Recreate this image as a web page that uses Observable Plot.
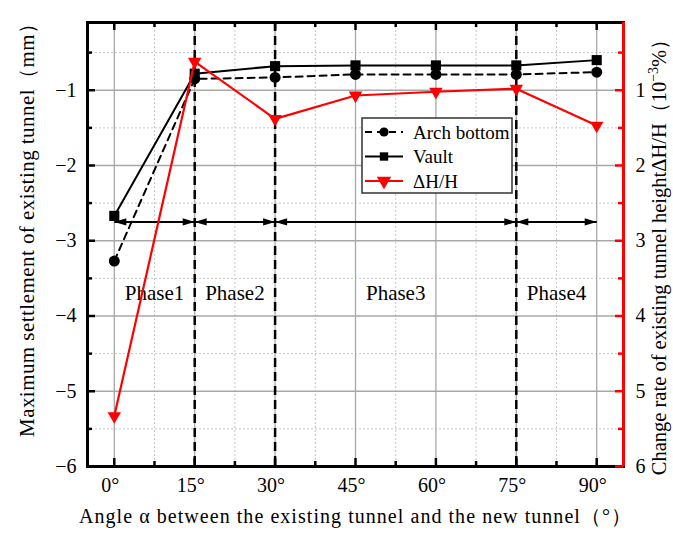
<!DOCTYPE html>
<html>
<head>
<meta charset="utf-8">
<script src="https://cdn.jsdelivr.net/npm/d3@7"></script>
<script src="https://cdn.jsdelivr.net/npm/@observablehq/plot@0.6"></script>
<style>
  html, body { margin: 0; padding: 0; background: #fff; }
  #chart svg { display: block; }
</style>
</head>
<body>
<div id="chart"></div>
<script>
// ---- data ----
const angles = [0, 15, 30, 45, 60, 75, 90];
const archBottom = [-3.27, -0.85, -0.83, -0.79, -0.79, -0.79, -0.76];   // mm
const vault = [-2.67, -0.78, -0.68, -0.67, -0.67, -0.67, -0.60];        // mm
const deltaHH = [5.33, 0.62, 1.38, 1.07, 1.02, 0.98, 1.47];             // 10^-3 %
const phaseBounds = [0, 15, 30, 75, 90];
const phaseNames = ["Phase1", "Phase2", "Phase3", "Phase4"];
const arrowLevel = -2.75;
const phaseLabelLevel = -3.7;
const xTicks = [0, 15, 30, 45, 60, 75, 90];
const xMinorTicks = [7.5, 22.5, 37.5, 52.5, 67.5, 82.5];
const yTicks = [-1, -2, -3, -4, -5, -6];
const yMinorTicks = [-0.5, -1.5, -2.5, -3.5, -4.5, -5.5];
const xDomain = [-5, 95];
const yDomain = [-6, -0.1];

// ---- layout ----
const W = 673, H = 533;
const mT = 22, mR = 50, mB = 67, mL = 87;
const fw = W - mL - mR, fh = H - mT - mB;
const FONT = '"Liberation Serif", "Times New Roman", "Noto Serif", serif';

const arch = angles.map((a, i) => ({a, v: archBottom[i]}));
const vlt = angles.map((a, i) => ({a, v: vault[i]}));
const dhh = angles.map((a, i) => ({a, v: deltaHH[i]}));

const segments = phaseBounds.slice(0, -1).map((b, i) => ({a: b, b: phaseBounds[i + 1], name: phaseNames[i]}));
const heads = segments.flatMap(s => [{x: s.b, dir: 0}, {x: s.a, dir: 180}]);
const arrowHead = {
  draw(ctx) { ctx.moveTo(0, 0); ctx.lineTo(-12, -3.6); ctx.lineTo(-12, 3.6); ctx.closePath(); }
};

const chart = Plot.plot({
  width: W, height: H,
  marginTop: mT, marginRight: mR, marginBottom: mB, marginLeft: mL,
  style: {fontFamily: FONT, fontSize: "18px", color: "black", background: "white"},
  x: {domain: xDomain},
  y: {domain: yDomain},
  marks: [
    // grid
    Plot.ruleY(yMinorTicks, {stroke: "#c8c8c8", strokeWidth: 1, strokeDasharray: "2,2"}),
    Plot.ruleX(xMinorTicks, {stroke: "#c8c8c8", strokeWidth: 1, strokeDasharray: "2,2"}),
    Plot.ruleY(yTicks.slice(0, -1), {stroke: "#a8a8a8", strokeWidth: 1.3}),
    Plot.ruleX(xTicks, {stroke: "#a8a8a8", strokeWidth: 1.3}),
    // phase separators
    Plot.ruleX(phaseBounds.slice(1, -1), {stroke: "black", strokeWidth: 2.5, strokeDasharray: "9,5"}),
    // phase arrows
    Plot.link(segments, {x1: "a", x2: "b", y1: () => arrowLevel, y2: () => arrowLevel, stroke: "black", strokeWidth: 2}),
    Plot.dot(heads, {x: "x", y: () => arrowLevel, symbol: arrowHead, rotate: "dir", fill: "black", stroke: "none"}),
    Plot.text(segments, {x: d => (d.a + d.b) / 2, y: () => phaseLabelLevel, text: "name", fontSize: 21, fill: "black"}),
    // series
    Plot.line(arch, {x: "a", y: "v", stroke: "black", strokeWidth: 2, strokeDasharray: "7,5"}),
    Plot.dot(arch, {x: "a", y: "v", r: 5.5, fill: "black", stroke: "none"}),
    Plot.line(vlt, {x: "a", y: "v", stroke: "black", strokeWidth: 2}),
    Plot.dot(vlt, {x: "a", y: "v", symbol: "square", r: 5.7, fill: "black", stroke: "none"}),
    Plot.line(dhh, {x: "a", y: d => -d.v, stroke: "#ff0000", strokeWidth: 2.2}),
    Plot.dot(dhh, {x: "a", y: d => -d.v, symbol: "triangle", rotate: 180, r: 5, fill: "#ff0000", stroke: "none"}),
    // frame
    Plot.frame({stroke: "black", strokeWidth: 3}),
    Plot.ruleX([xDomain[1]], {stroke: "#ff0000", strokeWidth: 3}),
    // inward ticks: left
    Plot.tickY(yTicks, {y: d => d, insetRight: fw - 8, stroke: "black", strokeWidth: 2.5}),
    Plot.tickY(yMinorTicks, {y: d => d, insetRight: fw - 5, stroke: "black", strokeWidth: 2.5}),
    // right (red)
    Plot.tickY(yTicks, {y: d => d, insetLeft: fw - 8, stroke: "#ff0000", strokeWidth: 2.5}),
    Plot.tickY(yMinorTicks, {y: d => d, insetLeft: fw - 5, stroke: "#ff0000", strokeWidth: 2.5}),
    // bottom
    Plot.tickX(xTicks, {x: d => d, insetTop: fh - 8, stroke: "black", strokeWidth: 2.5}),
    Plot.tickX(xMinorTicks, {x: d => d, insetTop: fh - 5, stroke: "black", strokeWidth: 2.5}),
    // top
    Plot.tickX(xTicks, {x: d => d, insetBottom: fh - 8, stroke: "black", strokeWidth: 2.5}),
    Plot.tickX(xMinorTicks, {x: d => d, insetBottom: fh - 5, stroke: "black", strokeWidth: 2.5}),
    // axis labels
    Plot.axisY({anchor: "left", ticks: yTicks, tickSize: 0, tickPadding: 11, tickFormat: d => "\u2212" + (-d), fontSize: 20, label: null}),
    Plot.axisY({anchor: "right", ticks: yTicks, tickSize: 0, tickPadding: 12, tickFormat: d => String(-d), fontSize: 20, label: null}),
    Plot.axisX({anchor: "bottom", ticks: xTicks, tickSize: 0, tickPadding: 11, dx: -4, tickFormat: d => d + "°", fontSize: 20, label: null})
  ]
});

document.getElementById("chart").appendChild(chart);

// ---- titles & legend ----
const svg = d3.select(chart);
svg.append("text")
  .attr("transform", `translate(34, 225) rotate(-90)`)
  .attr("text-anchor", "middle").attr("font-size", 21).attr("font-family", FONT).attr("fill", "black")
  .attr("textLength", 424).attr("lengthAdjust", "spacing")
  .text("Maximum settlement of existing tunnel（mm）");

const rt = svg.append("text")
  .attr("transform", `translate(666, 252) rotate(-90)`)
  .attr("text-anchor", "middle").attr("font-size", 20.5).attr("font-family", FONT).attr("fill", "black");
rt.append("tspan").text("Change rate of existing tunnel height\u0394H/H（10");
rt.append("tspan").attr("font-size", 14).attr("dy", -8).text("\u22123");
rt.append("tspan").attr("dy", 8).text("%）");

svg.append("text")
  .attr("x", 355).attr("y", 523)
  .attr("text-anchor", "middle").attr("font-size", 20).attr("font-family", FONT).attr("fill", "black")
  .attr("textLength", 552).attr("lengthAdjust", "spacing")
  .text("Angle α between the existing tunnel and the new tunnel（°）");

const legendItems = [
  {name: "Arch bottom", color: "black", dash: "7,5", sym: d3.symbolCircle, size: Math.PI * 4.6 * 4.6},
  {name: "Vault", color: "black", dash: null, sym: d3.symbolSquare, size: 70},
  {name: "\u0394H/H", color: "#ff0000", dash: null, sym: d3.symbolTriangle, size: 90, rot: 180}
];
const lg = svg.append("g");
lg.append("rect").attr("x", 362).attr("y", 118).attr("width", 150).attr("height", 75)
  .attr("fill", "white").attr("stroke", "#333").attr("stroke-width", 1.5);
legendItems.forEach((it, i) => {
  const yy = 132 + i * 24.5;
  lg.append("line").attr("x1", 365).attr("x2", 403).attr("y1", yy).attr("y2", yy)
    .attr("stroke", it.color).attr("stroke-width", 2).attr("stroke-dasharray", it.dash);
  lg.append("path").attr("d", d3.symbol(it.sym, it.size)())
    .attr("transform", `translate(384, ${yy}) rotate(${it.rot || 0})`).attr("fill", it.color);
  lg.append("text").attr("x", 413).attr("y", yy).attr("dy", "0.35em").attr("text-anchor", "start")
    .attr("font-size", 19).attr("font-family", FONT).attr("fill", "black").text(it.name);
});
</script>
</body>
</html>
